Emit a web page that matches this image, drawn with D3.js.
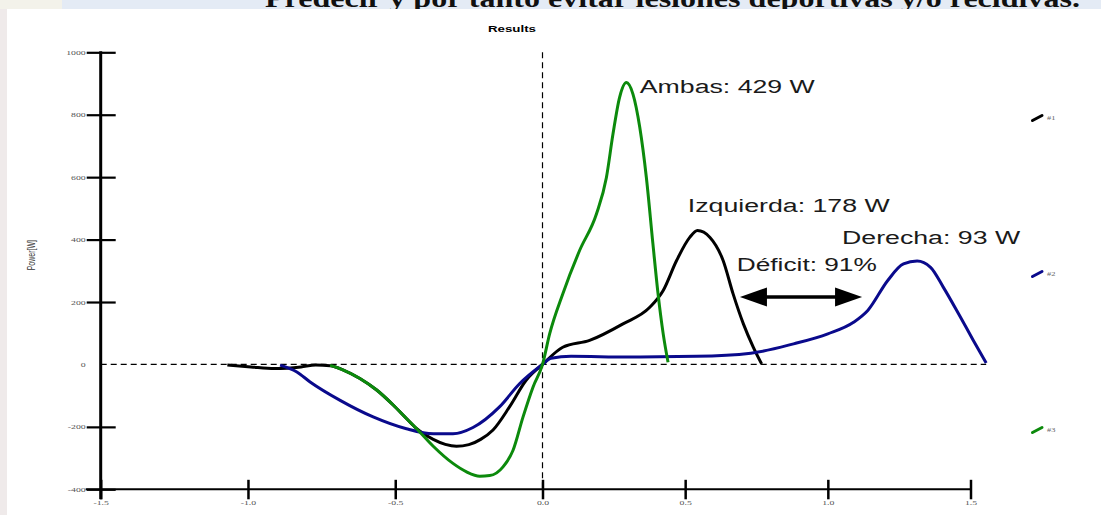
<!DOCTYPE html>
<html>
<head>
<meta charset="utf-8">
<script src="https://cdn.jsdelivr.net/npm/d3@7"></script>
<style>
  html, body { margin: 0; padding: 0; background: #fff; }
  svg { display: block; }
</style>
</head>
<body>
<svg id="chart" width="1101" height="515"></svg>
<script>
(function() {
"use strict";

// series #1 (Izquierda), #2 (Derecha), #3 (Ambas): [x, power W]
var serie1 = [
  [-1.07, -2], [-0.99, -8], [-0.91, -13], [-0.82, -8], [-0.77, -2], [-0.721, -4],
  [-0.676, -18], [-0.62, -45], [-0.563, -82], [-0.507, -130], [-0.462, -173],
  [-0.428, -205], [-0.371, -240], [-0.33, -256], [-0.292, -262], [-0.25, -257],
  [-0.21, -240], [-0.168, -210], [-0.112, -136], [-0.055, -50], [0, 0],
  [0.071, 55], [0.165, 77], [0.282, 130], [0.376, 183], [0.423, 237], [0.47, 333],
  [0.516, 407], [0.543, 429], [0.587, 407], [0.633, 333], [0.668, 226], [0.704, 130],
  [0.739, 55], [0.768, 2]
];
var serie2 = [
  [-0.891, -2], [-0.834, -24], [-0.789, -56], [-0.687, -115], [-0.575, -168],
  [-0.462, -206], [-0.371, -222], [-0.304, -222], [-0.236, -202], [-0.146, -136],
  [-0.078, -62], [0, 0], [0.03, 20], [0.1, 26], [0.3, 24], [0.54, 26], [0.73, 36],
  [0.88, 66], [1.0, 98], [1.09, 135], [1.14, 173], [1.21, 269], [1.265, 322],
  [1.313, 331], [1.36, 311], [1.405, 247], [1.465, 151], [1.51, 77], [1.555, 5]
];
var serie3 = [
  [-0.721, -3], [-0.676, -18], [-0.62, -45], [-0.563, -82], [-0.507, -130],
  [-0.462, -173], [-0.428, -205], [-0.371, -262], [-0.304, -317], [-0.258, -344],
  [-0.213, -358], [-0.179, -356], [-0.134, -328], [-0.1, -275], [-0.066, -168],
  [-0.032, -72], [0, 0], [0.025, 98], [0.071, 226], [0.13, 365], [0.189, 482],
  [0.224, 599], [0.247, 738], [0.27, 855], [0.294, 903], [0.317, 866], [0.341, 759],
  [0.364, 599], [0.387, 386], [0.405, 226], [0.423, 98], [0.44, 7]
];

var seriesNames = ["#1", "#2", "#3"];
var seriesColors = ["#000000", "#0a0a8c", "#0c8a0c"];

var xTicks = [-1.5, -1.0, -0.5, 0.0, 0.5, 1.0, 1.5];
var yTicks = [-400, -200, 0, 200, 400, 600, 800, 1000];

// annotation texts: [x, y, label, width]
var notes = [
  [0.341, 869, "Ambas: 429 W", 175],
  [0.509, 489, "Izquierda: 178 W", 202],
  [1.05, 385, "Derecha: 93 W", 178],
  [0.681, 299, "Déficit: 91%", 140]
];
var arrowSpan = [0.692, 1.12];
var arrowLevel = 216;

var headline = "Predecir y por tanto evitar lesiones deportivas y/o recidivas.";

var svg = d3.select("#chart");

var x = d3.scaleLinear().domain([-1.5, 0, 1.5]).range([100.7, 542.5, 970.5]);
var y = d3.scaleLinear().domain([-400, 1000]).range([489.3, 52.3]);

function hyphen(fmt) {
  var f = d3.format(fmt);
  return function(d) { return f(d).replace("\u2212", "-"); };
}

function widen(sel, k) {
  sel.each(function() {
    var w = this.getComputedTextLength();
    d3.select(this).attr("textLength", w * k).attr("lengthAdjust", "spacingAndGlyphs");
  });
}

// slide background bits
svg.append("rect").attr("x", 0).attr("y", 0).attr("width", 1101).attr("height", 9).attr("fill", "#e4ebf5");
svg.append("rect").attr("x", 0).attr("y", 0).attr("width", 62).attr("height", 9).attr("fill", "#f3f2ea");
svg.append("text")
  .attr("x", 265).attr("y", 6.5)
  .attr("textLength", 815).attr("lengthAdjust", "spacingAndGlyphs")
  .style("font-family", "'Liberation Serif', 'Times New Roman', serif")
  .style("font-weight", "bold").style("font-size", "26px")
  .attr("fill", "#111")
  .text(headline);
svg.append("rect").attr("x", 0).attr("y", 9).attr("width", 7).attr("height", 506).attr("fill", "#efeaea");
svg.append("rect").attr("x", 7).attr("y", 9).attr("width", 1094).attr("height", 506).attr("fill", "#ffffff");

// title
svg.append("text")
  .attr("x", 512).attr("y", 32)
  .attr("text-anchor", "middle")
  .attr("textLength", 48).attr("lengthAdjust", "spacingAndGlyphs")
  .style("font-family", "Arial, 'Liberation Sans', sans-serif")
  .style("font-weight", "bold").style("font-size", "9px")
  .text("Results");

// y label
svg.append("text")
  .attr("transform", "translate(35," + y(350) + ") scale(1.5,1) rotate(-90)")
  .attr("text-anchor", "middle")
  .style("font-family", "Arial, 'Liberation Sans', sans-serif")
  .style("font-size", "7px")
  .attr("fill", "#333")
  .text("Power[W]");

// zero reference lines
svg.append("line")
  .attr("x1", x(-1.5)).attr("x2", x(1.555))
  .attr("y1", y(0)).attr("y2", y(0))
  .attr("stroke", "#000").attr("stroke-width", 1.2).attr("stroke-dasharray", "6,4");
svg.append("line")
  .attr("x1", x(0)).attr("x2", x(0))
  .attr("y1", y(1000)).attr("y2", y(-400))
  .attr("stroke", "#000").attr("stroke-width", 1.2).attr("stroke-dasharray", "6,4");

// y axis
var yAxis = svg.append("g")
  .attr("transform", "translate(" + x(-1.5) + ",0)")
  .call(d3.axisLeft(y).tickValues(yTicks).tickSize(0).tickPadding(15).tickFormat(hyphen("d")));
yAxis.select(".domain").remove();
yAxis.selectAll(".tick line")
  .attr("x1", -14).attr("x2", 15)
  .attr("stroke", "#000").attr("stroke-width", 2.2)
  .filter(function(d) { return d === 0; }).remove();
yAxis.selectAll(".tick text")
  .style("font-family", "'Liberation Serif', serif").style("font-size", "6.5px")
  .attr("fill", "#555")
  .call(widen, 1.5);
svg.append("line")
  .attr("x1", x(-1.5)).attr("x2", x(-1.5))
  .attr("y1", y(1000) - 1).attr("y2", y(-400) + 10)
  .attr("stroke", "#000").attr("stroke-width", 3);

// x axis
var xAxis = svg.append("g")
  .attr("transform", "translate(0," + y(-400) + ")")
  .call(d3.axisBottom(x).tickValues(xTicks).tickSize(0).tickPadding(11).tickFormat(hyphen(".1f")));
xAxis.select(".domain").remove();
xAxis.selectAll(".tick line")
  .attr("y1", -9.5).attr("y2", 10)
  .attr("stroke", "#000").attr("stroke-width", 2.5);
xAxis.selectAll(".tick text")
  .style("font-family", "'Liberation Serif', serif").style("font-size", "6.5px")
  .attr("fill", "#555")
  .call(widen, 1.5);
svg.append("line")
  .attr("x1", x(-1.5) - 15).attr("x2", x(1.5) + 1)
  .attr("y1", y(-400)).attr("y2", y(-400))
  .attr("stroke", "#000").attr("stroke-width", 2);

// curves
var line = d3.line()
  .x(function(d) { return x(d[0]); })
  .y(function(d) { return y(d[1]); })
  .curve(d3.curveMonotoneX);

svg.selectAll("path.serie")
  .data([serie1, serie2, serie3])
  .enter()
  .append("path")
  .attr("class", "serie")
  .attr("d", line)
  .attr("fill", "none")
  .attr("stroke", function(d, i) { return seriesColors[i]; })
  .attr("stroke-width", 3)
  .attr("stroke-linejoin", "round");

// legend
var legendY = [117, 273, 429];
var legend = svg.selectAll("g.legend")
  .data(seriesNames)
  .enter()
  .append("g")
  .attr("class", "legend")
  .attr("transform", function(d, i) { return "translate(1032," + legendY[i] + ")"; });
legend.append("line")
  .attr("x1", 0.5).attr("y1", 3.5).attr("x2", 10).attr("y2", -1.5)
  .attr("stroke", function(d, i) { return seriesColors[i]; })
  .attr("stroke-width", 3).attr("stroke-linecap", "round");
legend.append("text")
  .attr("x", 15).attr("y", 2.5)
  .style("font-family", "'Liberation Serif', serif").style("font-size", "6px")
  .attr("fill", "#666")
  .text(function(d) { return d; })
  .call(widen, 1.4);

// annotations
svg.selectAll("text.note")
  .data(notes)
  .enter()
  .append("text")
  .attr("class", "note")
  .attr("x", function(d) { return x(d[0]); })
  .attr("y", function(d) { return y(d[1]); })
  .attr("textLength", function(d) { return d[3]; })
  .attr("lengthAdjust", "spacingAndGlyphs")
  .style("font-family", "Arial, 'Liberation Sans', sans-serif")
  .style("font-size", "18px")
  .attr("fill", "#1a1a1a")
  .text(function(d) { return d[2]; });

// deficit arrow
var ax0 = x(arrowSpan[0]), ax1 = x(arrowSpan[1]), ay = y(arrowLevel);
svg.append("line")
  .attr("x1", ax0 + 20).attr("x2", ax1 - 20)
  .attr("y1", ay).attr("y2", ay)
  .attr("stroke", "#000").attr("stroke-width", 3.5);
svg.append("path")
  .attr("d", "M" + ax0 + "," + ay + "L" + (ax0 + 27) + "," + (ay - 9.5) + "L" + (ax0 + 27) + "," + (ay + 9.5) + "Z")
  .attr("fill", "#000");
svg.append("path")
  .attr("d", "M" + ax1 + "," + ay + "L" + (ax1 - 27) + "," + (ay - 9.5) + "L" + (ax1 - 27) + "," + (ay + 9.5) + "Z")
  .attr("fill", "#000");

})();
</script>
</body>
</html>
